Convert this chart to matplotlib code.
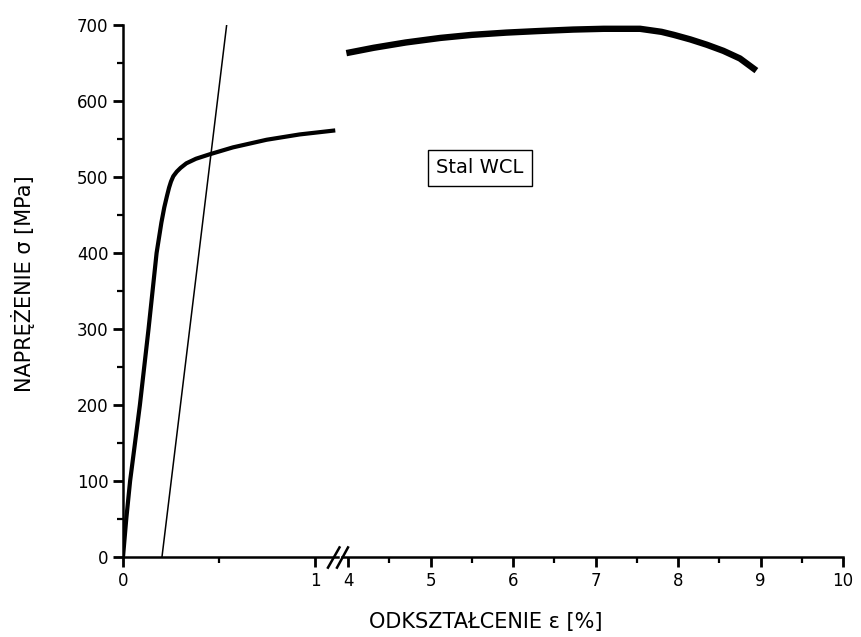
import matplotlib
matplotlib.use("Agg")
import matplotlib.pyplot as plt
from matplotlib.ticker import MultipleLocator

plt.rcParams['font.family'] = ['DejaVu Sans']

# elastic + plastic part (strain 0 - 1.1 %)
strain_lo = [0.0, 0.017, 0.037, 0.088, 0.133, 0.175, 0.20, 0.215, 0.229, 0.24, 0.25,
             0.262, 0.28, 0.30, 0.33, 0.38, 0.453, 0.573, 0.748, 0.92, 1.095]
stress_lo = [0, 50, 100, 200, 300, 400, 440, 460, 475, 486, 494,
             501, 507, 512, 518, 524, 530, 539, 549, 556, 561]

# part after the axis break (strain 4 - 9 %)
strain_hi = [3.98, 4.31, 4.7, 5.12, 5.5, 5.92, 6.3, 6.73, 7.1, 7.54, 7.8, 7.95, 8.15,
             8.35, 8.55, 8.75, 8.95]
stress_hi = [663, 670, 677, 683, 687, 690, 692, 694, 695, 695, 691, 687, 681,
             674, 666, 656, 640]

# 0.2 % offset line
offset_x = [0.203, 0.54]
offset_y = [0, 700]

fig = plt.figure(figsize=(8.62, 6.37), dpi=100)
ax1 = fig.add_axes([123/862, 1 - 557/637, 215/862, 532/637])
ax2 = fig.add_axes([342/862, 1 - 557/637, 501/862, 532/637], sharey=ax1)

ax1.plot(strain_lo, stress_lo, color='black', lw=3, solid_joinstyle='round')
ax1.plot(offset_x, offset_y, color='black', lw=1.1)
ax2.plot(strain_hi, stress_hi, color='black', lw=4.6, solid_capstyle='butt')

ax1.set_xlim(0, 1.12)
ax2.set_xlim(3.927, 10)
ax1.set_ylim(0, 700)

for ax in (ax1, ax2):
    for s in ('top', 'right'):
        ax.spines[s].set_visible(False)
    ax.spines['bottom'].set_linewidth(1.8)
    ax.spines['left'].set_linewidth(1.8)
    ax.tick_params(which='major', direction='out', length=7, width=2, labelsize=12)
    ax.tick_params(which='minor', direction='out', length=4, width=1.6)

ax2.spines['left'].set_visible(False)
ax2.tick_params(axis='y', which='both', left=False, labelleft=False)

ax1.xaxis.set_major_locator(MultipleLocator(1))
ax1.xaxis.set_minor_locator(MultipleLocator(0.5))
ax1.yaxis.set_major_locator(MultipleLocator(100))
ax1.yaxis.set_minor_locator(MultipleLocator(50))
ax2.xaxis.set_major_locator(MultipleLocator(1))
ax2.xaxis.set_minor_locator(MultipleLocator(0.5))

# break marks
kw = dict(color='black', lw=1.8, clip_on=False, transform=ax2.transAxes)
ax2.plot([-0.028, -0.005], [-0.02, 0.018], **kw)
ax2.plot([-0.01, 0.012], [-0.02, 0.018], **kw)

fig.text(0.027, 0.555, 'NAPRĘŻENIE σ [MPa]', fontsize=15, rotation=90,
         ha='center', va='center')
fig.text(0.564, 0.023, 'ODKSZTAŁCENIE ε [%]', fontsize=15, ha='center', va='center')

ax2.text(5.6, 512, 'Stal WCL', fontsize=14, ha='center', va='center',
         bbox=dict(boxstyle='square,pad=0.45', fc='white', ec='black', lw=1))

fig.savefig('out.png', dpi=100)
